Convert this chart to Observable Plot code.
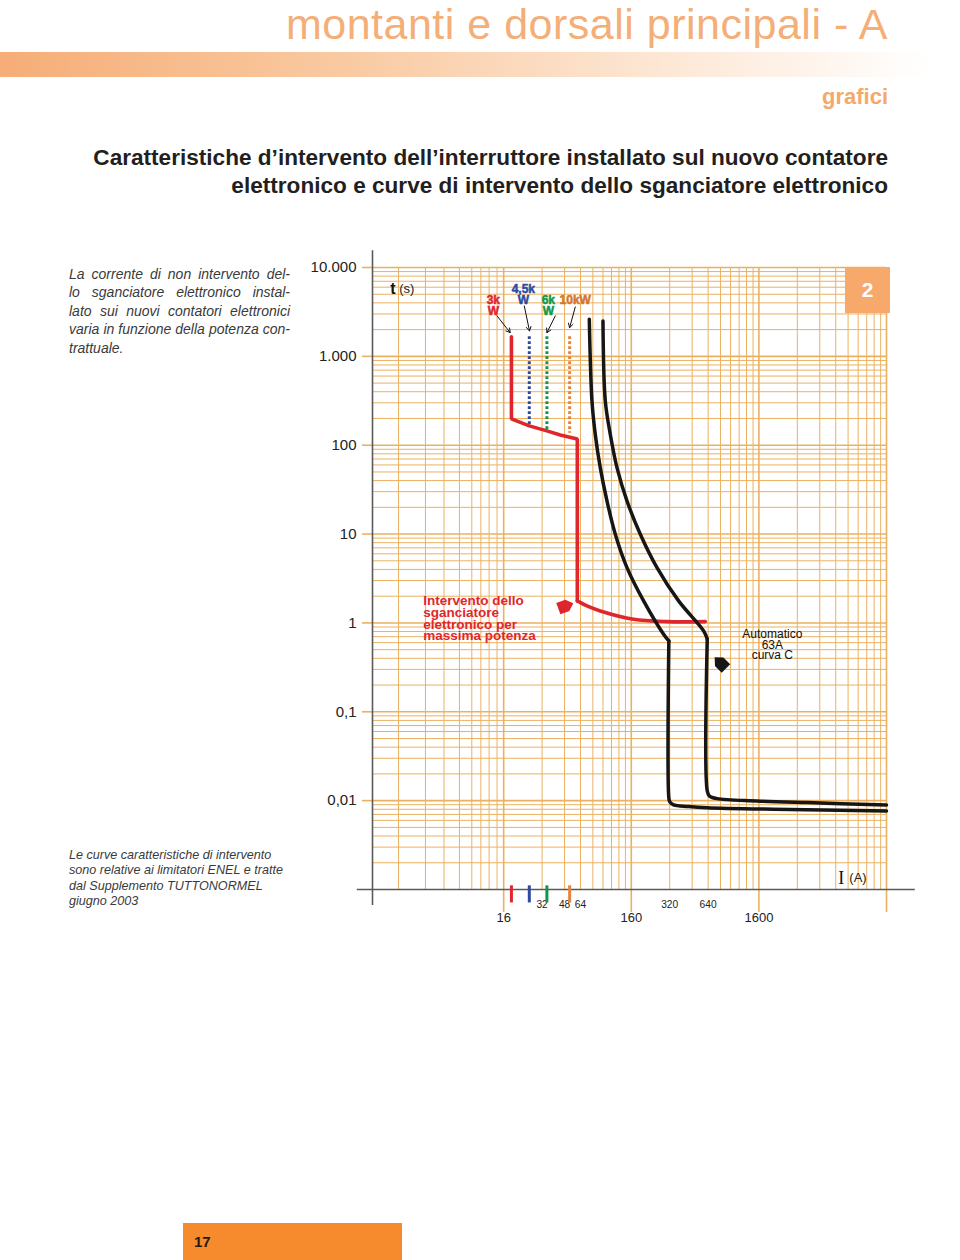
<!DOCTYPE html>
<html><head><meta charset="utf-8">
<script src="https://cdn.jsdelivr.net/npm/d3@7"></script>
<script src="https://cdn.jsdelivr.net/npm/@observablehq/plot@0.6"></script>
<style>
body{margin:0;background:#fff;}
#page{position:relative;width:960px;height:1260px;overflow:hidden;font-family:"Liberation Sans",Arial,sans-serif;color:#231f20;}
#chart{position:absolute;left:0;top:0;z-index:1;}
.abs{position:absolute;white-space:nowrap;z-index:2;}
#h1{right:72px;top:2.5px;font-size:43px;line-height:43px;letter-spacing:0.5px;color:#f4ae78;}
#bar{position:absolute;left:0;top:52px;width:960px;height:25px;background:linear-gradient(90deg,#f6ad77 0%,#f9c9a0 35%,#fde8d6 70%,#ffffff 97%);}
#graf{right:72px;top:86px;font-size:22px;line-height:22px;font-weight:bold;color:#f4a86c;}
.tt{right:72px;font-size:22.6px;line-height:22.6px;font-weight:bold;color:#231f20;}
.par{position:absolute;left:69px;width:221px;font-style:italic;font-size:14px;line-height:18.4px;color:#3a3a3a;white-space:nowrap;z-index:2;}
.just{text-align:justify;text-align-last:justify;}
.cap{position:absolute;left:69px;font-style:italic;font-size:12.6px;line-height:15.4px;color:#3a3a3a;white-space:nowrap;z-index:2;}
#box2{position:absolute;left:845px;top:267px;width:45px;height:46px;background:#f7a86b;color:#fff;font-weight:bold;font-size:21px;line-height:46px;text-align:center;z-index:3;}
#pg{position:absolute;left:183px;top:1223px;width:219px;height:37px;background:#f58b2d;z-index:2;}
#pgn{position:absolute;left:11px;top:11px;font-weight:bold;font-size:15px;line-height:15px;color:#2a1a10;}
</style></head><body>
<div id="page">
  <div id="chart"></div>
  <div class="abs" id="h1">montanti e dorsali principali - A</div>
  <div id="bar"></div>
  <div class="abs" id="graf">grafici</div>
  <div class="abs tt" style="top:147px">Caratteristiche d’intervento dell’interruttore installato sul nuovo contatore</div>
  <div class="abs tt" style="top:175px">elettronico e curve di intervento dello sganciatore elettronico</div>
  <div class="par just" style="top:265px">La corrente di non intervento del-</div>
  <div class="par just" style="top:283.4px">lo sganciatore elettronico instal-</div>
  <div class="par just" style="top:301.8px">lato sui nuovi contatori elettronici</div>
  <div class="par just" style="top:320.2px">varia in funzione della potenza con-</div>
  <div class="par" style="top:338.6px">trattuale.</div>
  <div class="cap" style="top:848px">Le curve caratteristiche di intervento</div>
  <div class="cap" style="top:863.4px">sono relative ai limitatori ENEL e tratte</div>
  <div class="cap" style="top:878.8px">dal Supplemento TUTTONORMEL</div>
  <div class="cap" style="top:894.2px">giugno 2003</div>
  <div id="box2">2</div>
  <div id="pg"><div id="pgn">17</div></div>
</div>
<script>
// ---------- axis ticks ----------
const yTicks = [10000, 1000, 100, 10, 1, 0.1, 0.01];
const yTickLabels = ["10.000", "1.000", "100", "10", "1", "0,1", "0,01"];
const xMajorTicks = [16, 160, 1600];
const xMinorTicks = [32, 48, 64, 320, 640];

// ---------- grid (log paper) ----------
const gridMult = [1, 2, 3, 4, 5, 6, 7, 8, 9];
const xGridPartial = [2.4, 3.9, 5.45, 7.2, 9, 10.6, 12.3, 14.2];
const xDecades = [16, 160, 1600, 16000];
const yDecades = [0.001, 0.01, 0.1, 1, 10, 100, 1000, 10000];

// ---------- red: electronic release (3 kW) ----------
const redUpperI = [18.4, 18.4, 25.4, 34.9, 44.4, 60.4, 60.4];
const redUpperT = [1660, 198, 165, 145, 130.5, 117.7, 1.77];
const redLowerI = [60.4, 71.9, 91.4, 166.7, 304.8, 608];
const redLowerT = [1.77, 1.553, 1.365, 1.10, 1.034, 1.034];

// ---------- contractual power limits ----------
const limitLabels = ["3k\nW", "4,5k\nW", "6k\nW", "10kW"];
const limitI = [18.4, 25.4, 34.9, 52.6];
const limitTop = [1660, 1660, 1660, 1660];
const limitBottom = [198, 165, 144.5, 136];
const limitColors = ["#e0262d", "#2f4a9c", "#14964a", "#e5843c"];
const limitLabelColors = ["#e0262d", "#2f4a9c", "#14964a", "#d4752f"];
const limitLabelI = [13.27, 22.8, 35.8, 58.2];
const limitLabelT = [3647, 4912, 3647, 4205];
const arrowI1 = [14.2, 23.2, 40.6, 58.2];
const arrowT1 = [2851, 3692, 2851, 3597];
const arrowI2 = [18.0, 25.5, 34.9, 52.6];
const arrowT2 = [1849, 1932, 1849, 2105];

// ---------- black: MCB 63A curve C (5 In and 10 In limits) ----------
const c5UpperI = [75, 78.7, 83.5, 91.4, 103.2, 119.9, 148, 199.8, 286.6, 315];
const c5UpperT = [2620, 315, 132.9, 55.9, 23.6, 9.96, 4.19, 1.77, 0.746, 0.627];
const c5LowerI = [315, 315, 320.5, 343, 450, 627, 2075, 16000];
const c5LowerT = [0.627, 0.0108, 0.00967, 0.00895, 0.0086, 0.00834, 0.0080, 0.00766];
const c10UpperI = [96, 100.1, 109.5, 123.6, 148, 188.3, 254.4, 375.8, 590, 630];
const c10UpperT = [2500, 315, 132.9, 55.9, 23.6, 9.96, 4.19, 1.77, 0.813, 0.66];
const c10LowerI = [630, 630, 654, 751, 1546, 3811, 16000];
const c10LowerT = [0.66, 0.0129, 0.0113, 0.01054, 0.00993, 0.0095, 0.00895];

// ---------- annotations (data coordinates) ----------
const redNote = "Intervento dello\nsganciatore\nelettronico per\nmassima potenza";
const redNoteI = 3.75, redNoteT = 1.102;
const mcbNote = "Automatico\n63A\ncurva C";
const mcbNoteI = 2038, mcbNoteT = 0.558;
const pointerI = [49.1, 797.6];
const pointerT = [1.553, 0.355];

const RED = "#e0262d", GRID = "#ebb160", AXIS = "#5a5a5a", BLACK = "#161616";

const rows = (I, T, extra = {}) => I.map((v, i) => ({I: v, t: T[i], ...extra}));
const xGrid = [...xGridPartial, ...xDecades.slice(0, 3).flatMap(d => gridMult.slice(1).map(k => d * k))];
const yGrid = yDecades.slice(0, 7).flatMap(d => gridMult.slice(1).map(k => d * k)).filter(v => v >= 0.002);
const limits = limitI.map((I, i) => ({I, top: limitTop[i], bottom: limitBottom[i], color: limitColors[i],
  label: limitLabels[i], lc: limitLabelColors[i], lx: limitLabelI[i], ly: limitLabelT[i],
  x1: arrowI1[i], y1: arrowT1[i], x2: arrowI2[i], y2: arrowT2[i]}));

const pointer = {draw(ctx, size) {
  const s = Math.sqrt(size) / 2;
  ctx.moveTo(-s, -0.75 * s); ctx.lineTo(0.2 * s, -0.75 * s); ctx.lineTo(s, 0);
  ctx.lineTo(0.2 * s, 0.75 * s); ctx.lineTo(-s, 0.75 * s); ctx.closePath();
}};

const chart = Plot.plot({
  width: 960, height: 940,
  marginLeft: 372, marginRight: 74, marginTop: 267, marginBottom: 51,
  x: {type: "log", domain: [1.5, 16000], axis: null},
  y: {type: "log", domain: [0.001, 10000], axis: null},
  color: {type: "identity"},
  style: {fontFamily: "Liberation Sans, Arial, sans-serif", background: "transparent", overflow: "visible"},
  marks: [
    // grid
    Plot.ruleX(xGrid, {y1: 0.001, y2: 10000, stroke: GRID, strokeWidth: 1}),
    Plot.ruleY(yGrid, {x1: 1.5, x2: 16000, stroke: GRID, strokeWidth: 1}),
    Plot.ruleX(xDecades, {y1: 0.00055, y2: 10000, stroke: GRID, strokeWidth: 1.6}),
    Plot.ruleY(yDecades.slice(1), {x1: 1.5, x2: 16000, stroke: GRID, strokeWidth: 1.6}),
    // axes
    Plot.axisY(yTicks, {anchor: "left", tickSize: 10, tickPadding: 6, fontSize: 15, stroke: GRID, strokeWidth: 1.6, fill: "#222",
      tickFormat: d => yTickLabels[yTicks.indexOf(d)]}),
    Plot.axisX(xMajorTicks, {anchor: "bottom", tickSize: 0, tickPadding: 23, fontSize: 13, fill: "#222", tickFormat: d => String(d)}),
    Plot.text(xMinorTicks, {x: d => d, y: 0.001, text: d => String(d), dy: 15, fontSize: 10.2, fill: "#222"}),
    Plot.ruleX([1.5], {y1: 0.00066, y2: 15400, stroke: AXIS, strokeWidth: 1.6}),
    Plot.ruleY([0.001], {x1: 1.14, x2: 26900, stroke: AXIS, strokeWidth: 1.6}),
    // limits
    Plot.ruleX(limits.slice(1), {x: "I", y1: "top", y2: "bottom", stroke: "color", strokeWidth: 3, strokeDasharray: "2.6,2.4"}),
    Plot.ruleX(limits, {x: "I", y1: 0.0011, y2: 0.000706, stroke: "color", strokeWidth: 3}),
    // red electronic release
    Plot.line(rows(redUpperI, redUpperT), {x: "I", y: "t", stroke: RED, strokeWidth: 3.6, strokeLinejoin: "miter"}),
    Plot.line(rows(redLowerI, redLowerT), {x: "I", y: "t", stroke: RED, strokeWidth: 3.6, curve: "catmull-rom"}),
    // black MCB curves
    Plot.line(rows(c5UpperI, c5UpperT), {x: "I", y: "t", stroke: BLACK, strokeWidth: 3.5, curve: "catmull-rom"}),
    Plot.line(rows(c5LowerI, c5LowerT), {x: "I", y: "t", stroke: BLACK, strokeWidth: 3.5, curve: "catmull-rom"}),
    Plot.line(rows(c10UpperI, c10UpperT), {x: "I", y: "t", stroke: BLACK, strokeWidth: 3.5, curve: "catmull-rom"}),
    Plot.line(rows(c10LowerI, c10LowerT), {x: "I", y: "t", stroke: BLACK, strokeWidth: 3.5, curve: "catmull-rom"}),
    // labels for limits
    Plot.text(limits, {x: "lx", y: "ly", text: "label", fill: "lc", stroke: "lc", strokeWidth: 0.5, fontSize: 12, fontWeight: "bold", lineHeight: 0.92, lineAnchor: "middle"}),
    Plot.arrow(limits, {x1: "x1", y1: "y1", x2: "x2", y2: "y2", stroke: "#111", strokeWidth: 1, headLength: 7}),
    // annotations
    Plot.text([redNote], {x: redNoteI, y: redNoteT, text: d => d, textAnchor: "start", lineAnchor: "middle", lineHeight: 0.86,
      fontSize: 13.5, fontWeight: "bold", fill: RED}),
    Plot.text([mcbNote], {x: mcbNoteI, y: mcbNoteT, text: d => d, textAnchor: "middle", lineAnchor: "middle", lineHeight: 0.88,
      fontSize: 12, fill: "#111"}),
    Plot.dot([0], {x: pointerI[0], y: pointerT[0], symbol: pointer, r: 9, fill: RED, stroke: "none", rotate: -20}),
    Plot.dot([0], {x: pointerI[1], y: pointerT[1], symbol: pointer, r: 9, fill: BLACK, stroke: "none", rotate: -135}),
    // axis titles
    Plot.text(["t"], {x: 2.07, y: 5740, text: d => d, textAnchor: "start", fontSize: 16, fontWeight: "bold", fill: "#111"}),
    Plot.text(["(s)"], {x: 2.43, y: 5740, text: d => d, textAnchor: "start", fontSize: 13, fill: "#222"}),
    Plot.text(["I"], {x: 6707, y: 0.00135, text: d => d, textAnchor: "start", fontSize: 18, fontFamily: "Liberation Serif, serif", fill: "#111"}),
    Plot.text(["(A)"], {x: 8177, y: 0.00135, text: d => d, textAnchor: "start", fontSize: 13, fill: "#222"})
  ]
});
document.getElementById("chart").appendChild(chart);
</script>
</body></html>
